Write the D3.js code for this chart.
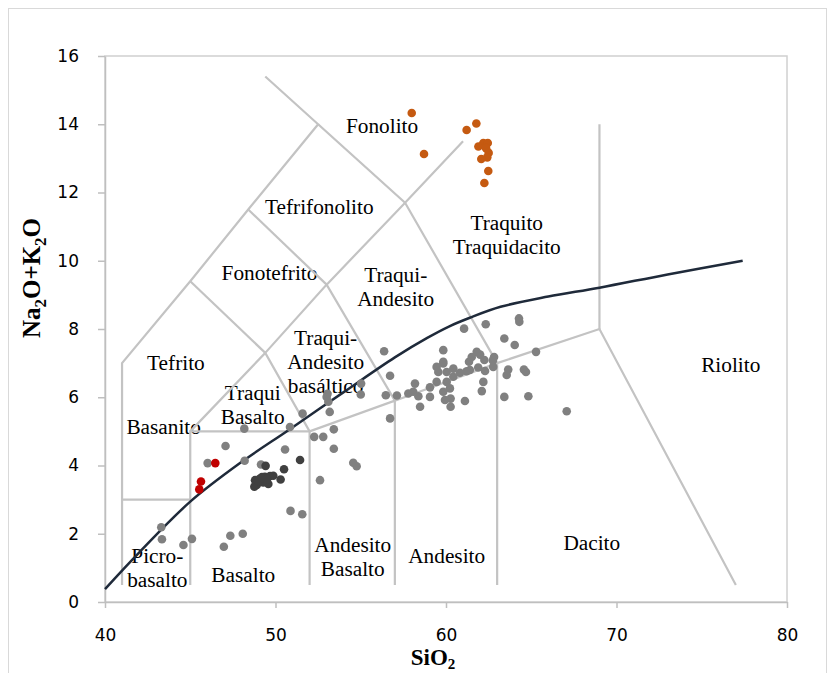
<!DOCTYPE html>
<html>
<head>
    <meta charset="utf-8">
    <script src="https://cdn.jsdelivr.net/npm/d3@7/dist/d3.min.js"></script>
    <style>
        body { margin: 0; background: #fff; }
        svg { display: block; }
    </style>
</head>
<body>
<svg width="832" height="673"></svg>
<script>
// ---- data ----
const xTicks = [40, 50, 60, 70, 80];
const yTicks = [0, 2, 4, 6, 8, 10, 12, 14, 16];

// TAS boundary polylines, [SiO2, Na2O+K2O]
const tasLines = [
    [[41, 0.5], [41, 7], [45, 9.4], [48.4, 11.5], [52.5, 14], [49.4, 15.4]],
    [[41, 3], [45, 3]],
    [[45, 0.5], [45, 5], [52, 5], [52, 0.5]],
    [[52, 5], [57, 5.9], [57, 0.5]],
    [[57, 5.9], [63, 7], [63, 0.5]],
    [[63, 7], [69, 8], [77, 0.5]],
    [[69, 8], [69, 14]],
    [[45, 5], [49.4, 7.3], [52, 5]],
    [[49.4, 7.3], [53, 9.3], [57, 5.9]],
    [[53, 9.3], [57.6, 11.7], [63, 7]],
    [[45, 9.4], [49.4, 7.3]],
    [[48.4, 11.5], [53, 9.3]],
    [[52.5, 14], [57.6, 11.7], [61, 13.5]]
];

// alkaline / subalkaline divide
const curveX = [40, 42, 45, 48, 50.8, 54, 57, 58.9, 60.2, 61.4, 63.2, 66, 69, 73, 77.4];
const curveY = [0.38, 1.45, 2.94, 4.1, 5.05, 6.15, 7.17, 7.74, 8.08, 8.33, 8.65, 8.95, 9.21, 9.6, 10.0];

const grayX = [43.3, 43.34, 44.6, 45.1, 46.97, 47.35, 48.08,
    46.02, 47.07, 48.19, 48.17, 49.15,
    50.56, 50.85, 50.88, 51.57, 51.59,
    52.27, 52.8, 53.42, 53.42, 52.61, 54.56, 54.76,
    53.0, 53.1, 53.05, 53.18,
    55.0, 55.02, 56.37, 56.72, 56.47, 57.12, 56.72,
    57.79, 58.08, 58.18, 58.38, 58.48, 59.06, 59.06,
    59.45, 59.55, 59.45, 59.84, 59.84, 59.84, 60.04, 60.04, 59.84, 60.23, 59.94, 60.27, 60.27, 60.43, 60.43, 60.82, 61.11,
    61.06, 62.33, 64.28, 64.3, 63.42, 64.03, 65.28,
    62.82, 62.75, 61.8, 62.0, 61.51, 61.35, 61.21, 61.4,
    62.25, 61.89, 62.29, 62.19, 62.1,
    62.77, 63.65, 63.56, 64.57, 64.69, 64.83, 63.42, 67.08];
const grayY = [2.19, 1.84, 1.67, 1.85, 1.62, 1.94, 2.0,
    4.07, 4.57, 4.14, 5.08, 4.03,
    4.47, 5.13, 2.67, 2.57, 5.52,
    4.84, 4.84, 5.06, 4.49, 3.57, 4.08, 3.98,
    6.01, 5.87, 6.1, 5.57,
    6.08, 6.4, 7.35, 6.63, 6.06, 6.05, 5.38,
    6.11, 6.16, 6.4, 6.03, 5.72, 6.01, 6.29,
    6.45, 6.74, 6.89, 7.38, 7.04, 6.99, 6.74, 6.45, 6.16, 6.26, 5.92, 5.96, 5.72, 6.84, 6.6, 6.72, 5.89,
    8.01, 8.14, 8.31, 8.21, 7.72, 7.53, 7.33,
    7.18, 7.08, 7.33, 7.25, 7.18, 7.04, 6.76, 6.8,
    7.09, 6.87, 6.77, 6.45, 6.18,
    6.89, 6.81, 6.65, 6.81, 6.74, 6.03, 6.01, 5.59];

const darkX = [49.42, 50.5, 51.44, 50.3, 48.8, 49.09, 49.38, 49.68, 49.87, 48.9, 49.28, 49.58, 48.76, 48.97, 49.21, 49.5];
const darkY = [3.99, 3.89, 4.16, 3.59, 3.57, 3.62, 3.67, 3.69, 3.7, 3.43, 3.5, 3.46, 3.38, 3.54, 3.66, 3.6];

const redX = [46.47, 45.63, 45.53];
const redY = [4.07, 3.53, 3.30];

const orangeX = [57.99, 58.71, 61.78, 61.21, 62.19, 61.9, 62.45, 62.5, 62.42, 62.07, 62.48, 62.25, 62.35];
const orangeY = [14.33, 13.13, 14.02, 13.83, 13.45, 13.35, 13.45, 13.16, 13.03, 12.98, 12.63, 12.28, 13.3];

// region names and where they sit (data units, centre of the text block)
const regionNames = [["Fonolito"], ["Tefrifonolito"], ["Fonotefrito"], ["Traqui-", "Andesito"],
    ["Traquito", "Traquidacito"], ["Riolito"], ["Dacito"], ["Andesito"], ["Tefrito"], ["Basanito"],
    ["Traqui", "Basalto"], ["Traqui-", "Andesito", "basáltico"], ["Picro-", "basalto"], ["Basalto"],
    ["Andesito", "Basalto"]];
const regionX = [56.25, 52.57, 49.65, 57.05, 63.56, 76.7, 68.55, 60.04, 44.16, 43.44, 48.66, 52.94, 43.07, 48.11, 54.53];
const regionY = [13.94, 11.58, 9.64, 9.22, 10.76, 6.94, 1.72, 1.35, 7.01, 5.12, 5.77, 7.04, 1.0, 0.78, 1.33];

// ---- chart ----
const svg = d3.select("svg");
const x = d3.scaleLinear().domain([40, 80]).range([105, 787]);
const y = d3.scaleLinear().domain([0, 16]).range([602, 56]);

const axisColor = "#BFBFBF";
const tasColor = "#C3C3C3";

// chart border
svg.append("rect")
    .attr("x", 8.5).attr("y", 8.5)
    .attr("width", 818).attr("height", 700)
    .attr("fill", "none").attr("stroke", "#D9D9D9");

// plot area border
svg.append("rect")
    .attr("x", x(40)).attr("y", y(16))
    .attr("width", x(80) - x(40)).attr("height", y(0) - y(16))
    .attr("fill", "none").attr("stroke", "#D0D0D0").attr("stroke-width", 1.5);

const xAxis = svg.append("g")
    .attr("transform", `translate(0,${y(0)})`)
    .call(d3.axisBottom(x).tickValues(xTicks).tickSize(6).tickSizeOuter(0).tickPadding(21));
const yAxis = svg.append("g")
    .attr("transform", `translate(${x(40)},0)`)
    .call(d3.axisLeft(y).tickValues(yTicks).tickSize(7).tickSizeOuter(0).tickPadding(19));

[xAxis, yAxis].forEach(function(g) {
    g.select(".domain").attr("stroke", axisColor).attr("stroke-width", 1.5);
    g.selectAll(".tick line").attr("stroke", axisColor).attr("stroke-width", 1.5);
    g.selectAll(".tick text")
        .attr("fill", "#000")
        .style("font-family", "'DejaVu Sans', sans-serif")
        .style("font-size", "17px");
});

// axis titles
const xt = svg.append("text")
    .attr("x", 433).attr("y", 665)
    .attr("text-anchor", "middle")
    .style("font-family", "'Liberation Serif', 'Times New Roman', serif")
    .style("font-weight", "bold").style("font-size", "23px");
xt.append("tspan").text("SiO");
xt.append("tspan").attr("dy", 4).style("font-size", "15px").text("2");

const yt = svg.append("text")
    .attr("transform", "translate(40,278) rotate(-90)")
    .attr("text-anchor", "middle")
    .style("font-family", "'Liberation Serif', 'Times New Roman', serif")
    .style("font-weight", "bold").style("font-size", "25px");
yt.append("tspan").text("Na");
yt.append("tspan").attr("dy", 6).style("font-size", "17px").text("2");
yt.append("tspan").attr("dy", -6).text("O+K");
yt.append("tspan").attr("dy", 6).style("font-size", "17px").text("2");
yt.append("tspan").attr("dy", -6).text("O");

// region names
const labels = svg.append("g")
    .style("font-family", "'Liberation Serif', 'Times New Roman', serif")
    .style("font-size", "21.3px")
    .attr("text-anchor", "middle");
regionNames.forEach(function(lines, i) {
    const t = labels.append("text")
        .attr("x", x(regionX[i]))
        .attr("y", y(regionY[i]) - (lines.length - 1) * 12 + 7);
    lines.forEach(function(s, j) {
        t.append("tspan").attr("x", x(regionX[i])).attr("dy", j === 0 ? 0 : 24).text(s);
    });
});

// TAS boundaries
const line = d3.line().x(d => x(d[0])).y(d => y(d[1]));
svg.append("g").selectAll("path")
    .data(tasLines)
    .enter()
    .append("path")
        .attr("d", line)
        .attr("fill", "none")
        .attr("stroke", tasColor)
        .attr("stroke-width", 2.2);

// alkaline / subalkaline divide
svg.append("path")
    .datum(curveX.map((v, i) => [v, curveY[i]]))
    .attr("d", d3.line().x(d => x(d[0])).y(d => y(d[1])).curve(d3.curveCatmullRom))
    .attr("fill", "none")
    .attr("stroke", "#1F2A3A")
    .attr("stroke-width", 2.5);

// samples
function dots(xs, ys, color) {
    svg.append("g").selectAll("circle")
        .data(xs.map((v, i) => [v, ys[i]]))
        .enter()
        .append("circle")
            .attr("cx", d => x(d[0]))
            .attr("cy", d => y(d[1]))
            .attr("r", 4.3)
            .attr("fill", color);
}
dots(grayX, grayY, "#808080");
dots(darkX, darkY, "#404040");
dots(redX, redY, "#C00000");
dots(orangeX, orangeY, "#C55A11");
</script>
</body>
</html>
